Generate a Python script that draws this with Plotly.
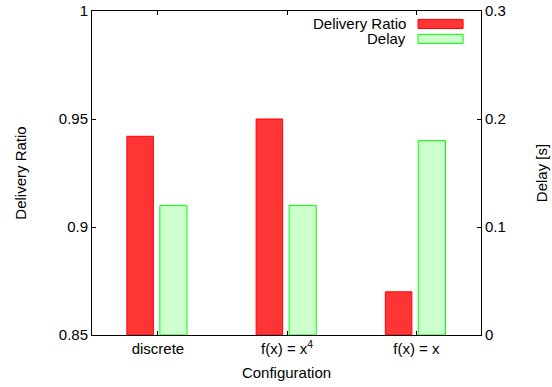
import plotly.graph_objects as go

categories = ["discrete", "f(x) = x<sup>4</sup>", "f(x) = x"]
delivery_ratio = [0.942, 0.950, 0.870]
delay = [0.12, 0.12, 0.18]
y_ticks = [0.85, 0.9, 0.95, 1.0]
y_ticktext = ["0.85", "0.9", "0.95", "1"]
y2_ticks = [0.0, 0.1, 0.2, 0.3]
y2_ticktext = ["0", "0.1", "0.2", "0.3"]

xpos = list(range(len(categories)))
FONT = "Liberation Sans, Arial, sans-serif"
FS = 15
RED_FILL = "#ff3535"
RED_LINE = "#ff0000"
GREEN_FILL = "#ccffcc"
GREEN_LINE = "#00ff00"

fig = go.Figure()
fig.add_trace(go.Bar(
    x=xpos, y=[v - 0.85 for v in delivery_ratio], base=0.85, name="Delivery Ratio",
    offset=-0.24, width=0.205,
    marker=dict(color=RED_FILL, line=dict(color=RED_LINE, width=1)),
    yaxis="y", showlegend=False,
))
fig.add_trace(go.Bar(
    x=xpos, y=delay, name="Delay",
    offset=0.015, width=0.21,
    marker=dict(color=GREEN_FILL, line=dict(color=GREEN_LINE, width=1)),
    yaxis="y2", showlegend=False,
))

fig.update_layout(
    width=552, height=387,
    margin=dict(l=92, r=71, t=11, b=52),
    paper_bgcolor="white", plot_bgcolor="white",
    font=dict(family=FONT, size=FS, color="black"),
    barmode="overlay",
    xaxis=dict(
        range=[-0.51, 2.5], tickvals=xpos, ticktext=categories,
        tickfont=dict(size=FS), automargin=False,
        showline=True, linecolor="black", linewidth=1, mirror="ticks",
        ticks="inside", ticklen=4, tickcolor="black", showgrid=False, zeroline=False,
        title=dict(text="Configuration", standoff=11, font=dict(size=FS)),
    ),
    yaxis=dict(
        range=[0.85, 1.0], tickvals=y_ticks, ticktext=y_ticktext,
        tickfont=dict(size=FS), automargin=False,
        showline=True, linecolor="black", linewidth=1,
        ticks="inside", ticklen=4, tickcolor="black", showgrid=False, zeroline=False,
        title=dict(text="Delivery Ratio", standoff=28, font=dict(size=FS)),
    ),
    yaxis2=dict(
        range=[0, 0.3], tickvals=y2_ticks, ticktext=y2_ticktext,
        tickfont=dict(size=FS), automargin=False,
        overlaying="y", side="right",
        showline=True, linecolor="black", linewidth=1,
        ticks="inside", ticklen=4, tickcolor="black", showgrid=False, zeroline=False,
        title=dict(text="Delay [s]", standoff=31, font=dict(size=FS)),
    ),
)

# legend drawn gnuplot-style: text right-aligned, sample box on the right
legend_items = [("Delivery Ratio", RED_FILL, RED_LINE, 0.960), ("Delay", GREEN_FILL, GREEN_LINE, 0.914)]
for label, fill, line, yc in legend_items:
    fig.add_annotation(x=0.812, y=yc, xref="paper", yref="paper", text=label,
                       showarrow=False, xanchor="right", yanchor="middle",
                       font=dict(family=FONT, size=FS))
    fig.add_shape(type="rect", xref="paper", yref="paper",
                  x0=0.838, x1=0.954, y0=yc - 0.014, y1=yc + 0.014,
                  fillcolor=fill, line=dict(color=line, width=1))

fig.write_html("out.html")
